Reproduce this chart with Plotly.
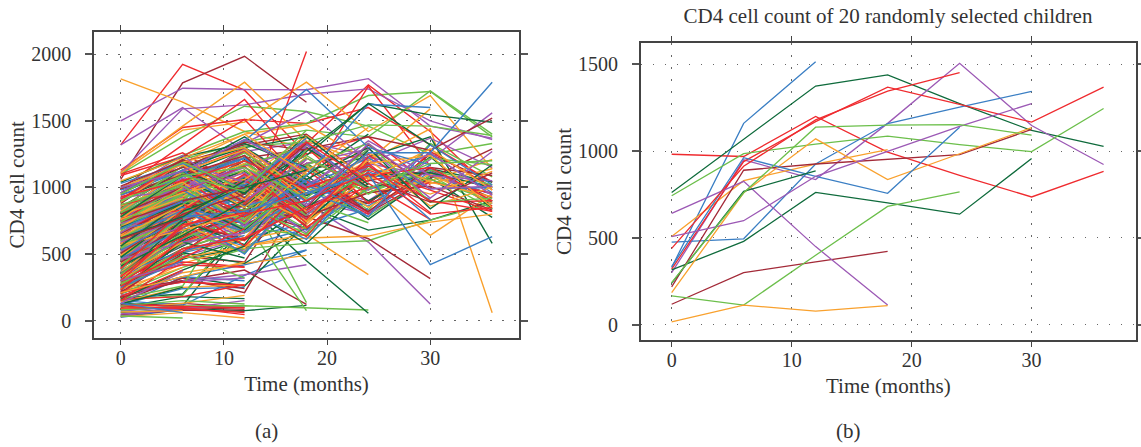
import plotly.graph_objects as go

months = [0, 6, 12, 18, 24, 30, 36]
tick_x = [0, 10, 20, 30]
tick_y_a = [0, 500, 1000, 1500, 2000]
tick_y_b = [0, 500, 1000, 1500]

blue = "#3b7fc4"
red = "#ef2b2f"
dark_green = "#0f6b3c"
dark_red = "#a32a38"
purple = "#9c59b5"
orange = "#f9a12e"
green = "#6cbf4b"

a_blue = [
 [25,85],[40,105],[70,120],[105,330,420,530],[150,115,340,530],[118,240,250],[210,330,300],[260,510,620,730],
 [300,640,720,810,880],[330,700,560,690,840],[350,770,930,680,990,1060],[380,610,780,1160,810,1120,880],[420,750,1000,850],[450,820,660,900,1080,1100,1010],
 [480,700,830,610,1120],[510,860,1080,1010,860,1170],[540,790,500,1040],[560,900,1010,760,1120,910],[590,740,1050,1330,990],[620,850,700,1010,1220,990,1000],
 [640,930,1180,920],[670,810,670,950,1090,1250,960],[700,940,1020,1280],[720,880,1230,910,1100],[740,1010,860,980,780,1320,1020],[760,960,1280,1040],
 [780,850,730,1060,780],[810,1040,1220,900,1170,760],[830,1100,1350,1735,1300,1170],[860,980,730,1090,1625,1600],[900,1080,1220,890,1260,1260,1790],[940,1130,790,1050],
 [980,1120,1360,1140],[1030,1180,990,1370],[690,780,820,960,1100,420,630],[360,520,640],[470,680],[250,450],[610,830],[530,770,1010],[130,60],[690,900]
]
a_red = [
 [1320,1925,1730,1250,1380,1020],[1130,1450,1510,1480,1600,1320,1040],[1100,1260,990,1330,1770,1420,980],[1090,1230,1510,1020,1760,1160],[990,1320,1660,1120],[960,1210,1040,1300,890,1150,860],
 [110,90,60],[120,110,95],[95,100,45],[160,180,270],[215,290,265],[300,420,400],[340,440,405],
 [280,590,760,2020],[420,760,600,1050,800,1270,1000],[450,810,1060,810,1080],[480,620,880,630,1180],[500,850,1000,1340,880,1040,960],[530,900,690,1020],
 [560,700,910,1130,810],[580,980,820,1180,1250,890,900],[600,830,1090,700,1030,760],[640,930,740,1220,980],[660,880,560,1000,1130,980,820],[690,1010,1270,950],
 [710,790,1050,830,1090,1150,900],[730,1060,780,1010],[750,1120,1290,1000,1160,900,820],[770,830,1100,760,1230],[800,1040,1270,900,1180,810],[840,1160,880,1260],
 [870,970,1160,730],[910,1190,990,1340,1040],[930,1050,1200,980],[150,470,690],[180,380],[200,540,620,850,1000],[230,620],[330,700],[390,830],[260,520,800,900,1110,800,850],[300,720,810]
]
a_dark_green = [
 [30,95],[60,90,75,115],[100,180,165],[130,110,700,900],[170,200,700,850],[205,330,260,730],[230,500,880,450,55],[265,460,610,880],
 [290,470,540,860,680,755,900],[310,510,430,700,1000,1070,775],[340,560,790,1010,880,1230,840],[370,600,840,580,1010],[400,630,820,1090,760,1090,950],[430,660,1000,720],
 [460,700,880,1130,1230,1380,580],[490,730,1040,860],[520,750,570,1180,900,1140,1040],[550,800,1020,740,1160],[580,830,1070,800],[610,860,1210,940,1090,1110,1000],
 [650,900,680,1090,1400],[680,950,1010,1240,1630,1545,1490],[720,990,1120,830,1280],[750,1020,1240,950],[790,1060,850,1300,1000],[820,960,1300,1020],
 [850,1130,1380,1060,1300,840,1170],[880,1200,950,1400],[920,1100,1280,850],[960,1150,1300,1380,1020],[1000,1120,960,1270,1630,1320],[1040,1230,1330,1150],
 [125,250],[160,380,560],[240,590,470],[320,760],[410,640,900],[475,820,1000,1130],[560,890],[620,780,1050],[700,880],[780,1090]
]
a_dark_red = [
 [1060,1785,1985,1640],[45,80,70],[85,100,85],[115,130,100],[145,320,210,1000],[190,300,380,122],[225,300,240],[255,290,265],
 [270,480,440,1140],[300,540,690,810],[330,590,810,780,615,315],[360,680,840,690,1100],[390,760,900,1030,880,1250,1040],[420,640,790,1140],[455,730,610,860,1050,1130,920],[485,790,1000,800],
 [510,870,960,1180,810,1070,1290],[545,820,1050,710],[575,910,720,940,1190],[600,750,870,1060,820,1150,1090],[635,940,1130,810],[665,890,1020,780,960,1010,830],
 [695,1000,780,1170],[725,960,1200,850,1320,990],[755,1040,730,1180],[785,1090,1220,1290,1380,1280,1520],[815,1130,890,1260],[845,1010,1290,980],
 [880,1190,1320,1400,1060,890,1110],[910,1210,920,1330],[945,1090,1240,800],[985,1150,1340,1280],[800,1000],[655,880],[440,720],[350,680],[215,500],[175,300],[505,800,950],[615,770],[740,900,1000],[1010,1200]
]
a_purple = [
 [1500,1745,1735,1733,1817,1460,1370],[1320,1600,1270,1340,1240],[1110,1590,1620,1700,1740,1500,1360],[35,90,150],[50,95,110],[75,100],[190,300,345,420],[220,290,320],
 [250,480,620,880,590,125],[280,520,660,830],[310,570,720,900,800,1040],[340,620,790,1020,900,1210,1560],[365,690,520,960],[395,740,980,660,1180,1090,950],[425,800,880,1130],[445,820,620,1000,1230,1110,1000],
 [475,700,860,1060,810,1140,900],[505,880,1000,770],[535,860,680,1020,1280],[565,760,950,1130],[595,900,1040,790,1180,1370,1150],[625,980,750,1210],[655,840,1090,1000,1350,1090,1050],[685,1030,1240,910],
 [715,960,1110,820,1160],[745,1090,710,1180,1290,920,1270],[775,1000,1160,1300],[805,1130,1330,1570,1200],[835,1070,880,1320,980,1260,940],[865,990,1290,1000],[895,1180,1040,1350],[925,980,1150,860,1330,990,1010],
 [960,1240,900,1210],[1000,1120,1360,1100],[400,700],[460,590,660],[520,710],[590,770],[660,930],[730,890],[130,370],[300,430]
]
a_orange = [
 [1815,1640,1420,1290,1000],[1120,1460,1790,1350,1180],[1110,1430,1490,1790,1420,1690,1140],[950,1180,1400,1470,1200,1590],[30,60,20],[65,75],[90,130,190],[140,250,270],
 [175,360,430,490],[210,430,560,650,345],[240,470,560,620,635,740,800],[275,520,610,700,1000,640,950],[305,580,760,830,960,1050,1210],[335,650,880,960,1200,1440,60],[365,720,540,1090],[400,780,1010,720,1140,1030,1140],
 [430,640,900,1070],[460,830,660,1160,850,1100,880],[490,760,1030,810],[520,880,620,1110],[550,710,1000,740,1080,950,1120],[580,920,1090,810],[610,840,1130,860,1260,1040,930],[640,990,760,1280],
 [670,800,970,750,1210,860,1000],[700,1020,1180,820],[730,930,1240,900,1180,1240,850],[760,1100,850,1230],[790,960,1060,1390,1060,1290,980],[820,1120,1280,910],[860,1040,730,1120,1450],[890,1190,1300,950],
 [1000,1170,910,1380],[1050,1220,1400,1100],[240,400],[330,590],[490,840],[570,680,810],[630,870],[695,1000],[760,920],[210,330,440]
]
a_green = [
 [1100,1380,1610,1570,1460,1250,1330],[1040,1240,1420,1480,1690,1720,1380],[990,1210,1340,1430,1380,1725,1400],[920,1120,790,1150,830,1330,1080],[35,20],[80,110,112,95,80],[110,150,125],[155,190,750,75],
 [165,260,1000,135],[200,400,540,580,600,755,880],[235,500,320],[265,540,690,900,735],[295,580,700,640,1000],[325,620,770,1000,780,1090,840],[355,680,510,1010,1130],[385,740,950,690],
 [415,790,1000,1170,960,1130,1020],[445,700,880,650,1180],[475,850,660,1020],[505,810,1020,790,1140,1060,900],[535,900,830,1100],[565,760,1040,1240,950,1220,1170],[595,940,690,1060],[625,870,1180,920,1290],
 [655,1000,1130,790],[685,960,760,1170,1330,890,920],[715,1050,1200,840],[745,910,1170,1310],[775,1110,880,1220,990,1180,1200],[805,1030,1260,960],[835,1160,1310,1340,1470,1460,1390],[870,1010,730,1280],
 [900,1090,1150,920],[950,1190,980,1430],[480,770],[350,660],[550,800],[610,880],[680,950],[280,480],[740,990],[810,1090,970]
]

b_months = months
b_blue_1 = [330, 1160, 1515]
b_red_1 = [982, 969, 1200, 994, 861, 736, 884]
b_dark_green_1 = [762, 1069, 1375, 1439, 1274, 1119, 1027]
b_dark_red_1 = [118, 300, 362, 422]
b_purple_1 = [300, 950, 836, 1160, 1506, 1148, 923]
b_orange_1 = [508, 830, 925, 1009]
b_green_1 = [743, 986, 1040, 1086, 1037, 997, 1246]
b_blue_2 = [476, 495, 926, 1159, 1254, 1344]
b_red_2 = [320, 940, 1170, 1369, 1269, 1167, 1369]
b_dark_green_2 = [316, 480, 762, 702, 637, 957]
b_dark_red_2 = [218, 890, 926, 955, 980, 1125]
b_purple_2 = [641, 826, 450, 113]
b_orange_2 = [185, 760, 1071, 836, 985, 1135]
b_green_2 = [166, 113, 400, 682, 765]
b_blue_3 = [335, 962, 855, 757, 1138]
b_red_3 = [440, 913, 1180, 1346, 1452]
b_dark_green_3 = [240, 768, 886]
b_purple_3 = [508, 599, 855, 1000, 1143, 1274]
b_orange_3 = [17, 113, 78, 110]
b_green_3 = [243, 760, 1138, 1150, 1153, 1092]

title_b = "CD4 cell count of 20 randomly selected children"
x_title = "Time (months)"
y_title = "CD4 cell count"

FONT = "Liberation Serif"
INK = "#333333"
W, H = 1141, 447

fig = go.Figure()

groups_a = [(a_blue, blue), (a_red, red), (a_dark_green, dark_green), (a_dark_red, dark_red),
            (a_purple, purple), (a_orange, orange), (a_green, green)]
longest = max(len(g[0]) for g in groups_a)
for i in range(longest):
    for rows, colour in groups_a:
        if i < len(rows):
            r = rows[i]
            fig.add_trace(go.Scatter(x=months[:len(r)], y=r, mode="lines", xaxis="x", yaxis="y",
                                     line=dict(color=colour, width=1.4), hoverinfo="skip", showlegend=False))

groups_b = [(b_blue_1, blue), (b_red_1, red), (b_dark_green_1, dark_green), (b_dark_red_1, dark_red),
            (b_purple_1, purple), (b_orange_1, orange), (b_green_1, green),
            (b_blue_2, blue), (b_red_2, red), (b_dark_green_2, dark_green), (b_dark_red_2, dark_red),
            (b_purple_2, purple), (b_orange_2, orange), (b_green_2, green),
            (b_blue_3, blue), (b_red_3, red), (b_dark_green_3, dark_green),
            (b_purple_3, purple), (b_orange_3, orange), (b_green_3, green)]
for r, colour in groups_b:
    fig.add_trace(go.Scatter(x=b_months[:len(r)], y=r, mode="lines", xaxis="x2", yaxis="y2",
                             line=dict(color=colour, width=1.3), hoverinfo="skip", showlegend=False))

ml, mr, mt, mb = 94, 5, 32, 107
pw, ph = W - ml - mr, H - mt - mb

def dom_x(a, b):
    return [(a - ml) / pw, (b - ml) / pw]

def dom_y(top, bottom):
    return [(H - mb - bottom) / ph, (H - mb - top) / ph]

def x_axis(rng, dom, anchor):
    return dict(domain=dom, range=rng, anchor=anchor, tickmode="array", tickvals=tick_x,
                ticks="outside", ticklen=5, tickwidth=1, tickcolor="#444444",
                showline=True, linecolor="#444444", linewidth=1.6, mirror="ticks",
                showgrid=True, gridcolor="#666666", gridwidth=1, griddash="1.5px,10.5px",
                zeroline=False, ticklabelstandoff=-4,
                tickfont=dict(family=FONT, size=20, color=INK),
                title=dict(text=x_title, font=dict(family=FONT, size=21, color=INK), standoff=9))

def y_axis(rng, dom, anchor, vals):
    return dict(domain=dom, range=rng, anchor=anchor, tickmode="array", tickvals=vals,
                ticks="outside", ticklen=7, tickwidth=1.6, tickcolor="#555555",
                showline=True, linecolor="#444444", linewidth=1.6, mirror="ticks",
                showgrid=True, gridcolor="#666666", gridwidth=1, griddash="1.5px,10.5px",
                zeroline=False, ticklabelstandoff=10,
                tickfont=dict(family=FONT, size=20, color=INK),
                title=dict(text=y_title, font=dict(family=FONT, size=21, color=INK), standoff=1))

def page_x(px):
    return (px - ml) / pw

def page_y(py):
    return 1 - (py - mt) / ph

fig.update_layout(
    width=W, height=H, autosize=False,
    margin=dict(l=ml, r=mr, t=mt, b=mb, pad=0, autoexpand=False),
    paper_bgcolor="white", plot_bgcolor="white", showlegend=False,
    title=dict(text=title_b, x=888 / W, y=1 - 16 / H, xanchor="center", yanchor="middle",
               font=dict(family=FONT, size=21, color=INK)),
    xaxis=x_axis([-2.59, 38.6], dom_x(94, 519), "y"),
    yaxis=y_axis([-128, 2167], dom_y(32, 337.7), "x", tick_y_a),
    xaxis2=x_axis([-2.58, 38.7], dom_x(640.7, 1136), "y2"),
    yaxis2=y_axis([-88, 1623], dom_y(43, 340), "x2", tick_y_b),
    annotations=[
        dict(text="(a)", x=page_x(266), y=page_y(431), xref="paper", yref="paper", showarrow=False,
             xanchor="center", yanchor="middle", font=dict(family=FONT, size=21, color=INK)),
        dict(text="(b)", x=page_x(848), y=page_y(431), xref="paper", yref="paper", showarrow=False,
             xanchor="center", yanchor="middle", font=dict(family=FONT, size=21, color=INK)),
    ],
)

fig.write_html("out.html", config={"displayModeBar": False},
               post_script="document.body.style.margin='0';document.body.style.overflow='hidden';")
